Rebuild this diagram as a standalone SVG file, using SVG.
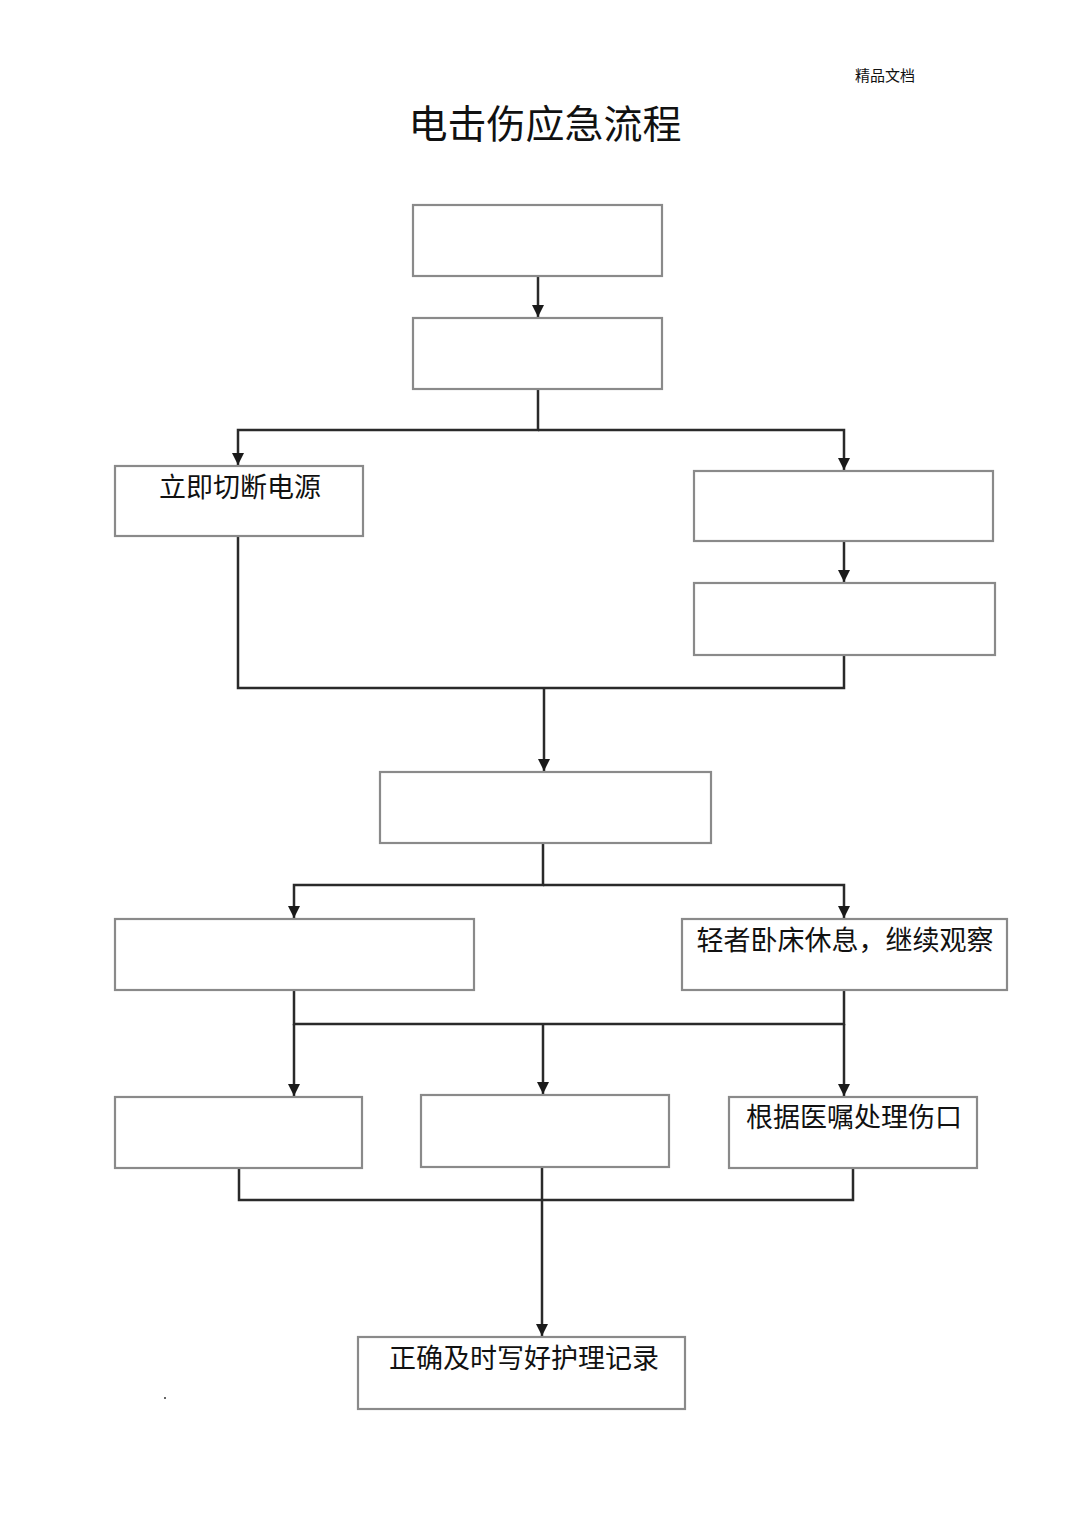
<svg xmlns="http://www.w3.org/2000/svg" width="1080" height="1528" viewBox="0 0 1080 1528">
<style>
.box{fill:#ffffff;stroke:#8a8a8a;stroke-width:2.2}
.ln{fill:none;stroke:#2a2a2a;stroke-width:2.5}
.t{font-family:"Liberation Serif","Noto Sans CJK SC",serif;fill:#111;font-size:27px}
</style>
<rect width="1080" height="1528" fill="#ffffff"/>
<text x="885" y="81" class="t" style="font-size:15px" text-anchor="middle">精品文档</text>
<text x="545" y="138" class="t" style="font-size:39px" text-anchor="middle">电击伤应急流程</text>
<g id="connectors">
<path class="ln" d="M538,277 V317"/>
<path class="ln" d="M538,390 V430 H238 V465"/>
<path class="ln" d="M538,430 H844 V470"/>
<path class="ln" d="M844,541 V582"/>
<path class="ln" d="M238,537 V688 H844 V656"/>
<path class="ln" d="M544,688 V771"/>
<path class="ln" d="M543,844 V885 H294 V918"/>
<path class="ln" d="M543,885 H844 V918"/>
<path class="ln" d="M294,991 V1024 H844 V991"/>
<path class="ln" d="M844,1024 V1096"/>
<path class="ln" d="M294,1024 V1096"/>
<path class="ln" d="M543,1024 V1094"/>
<path class="ln" d="M239,1169 V1200 H853 V1169"/>
<path class="ln" d="M542,1168 V1336"/>
<g fill="#1a1a1a">
<path d="M532,305 L544,305 L538,317 Z"/>
<path d="M232,453 L244,453 L238,465 Z"/>
<path d="M838,458 L850,458 L844,470 Z"/>
<path d="M838,570 L850,570 L844,582 Z"/>
<path d="M538,759 L550,759 L544,771 Z"/>
<path d="M288,906 L300,906 L294,918 Z"/>
<path d="M838,906 L850,906 L844,918 Z"/>
<path d="M288,1084 L300,1084 L294,1096 Z"/>
<path d="M537,1082 L549,1082 L543,1094 Z"/>
<path d="M838,1084 L850,1084 L844,1096 Z"/>
<path d="M536,1324 L548,1324 L542,1336 Z"/>
</g>
</g>
<g id="n1"><rect class="box" x="413" y="205" width="249" height="71"/></g>
<g id="n2"><rect class="box" x="413" y="318" width="249" height="71"/></g>
<g id="n3"><rect class="box" x="115" y="466" width="248" height="70"/><text class="t" x="240" y="497" text-anchor="middle">立即切断电源</text></g>
<g id="n4"><rect class="box" x="694" y="471" width="299" height="70"/></g>
<g id="n5"><rect class="box" x="694" y="583" width="301" height="72"/></g>
<g id="n6"><rect class="box" x="380" y="772" width="331" height="71"/></g>
<g id="n7"><rect class="box" x="115" y="919" width="359" height="71"/></g>
<g id="n8"><rect class="box" x="682" y="919" width="325" height="71"/><text class="t" x="845" y="950" text-anchor="middle">轻者卧床休息，继续观察</text></g>
<g id="n9"><rect class="box" x="115" y="1097" width="247" height="71"/></g>
<g id="n10"><rect class="box" x="421" y="1095" width="248" height="72"/></g>
<g id="n11"><rect class="box" x="729" y="1097" width="248" height="71"/><text class="t" x="854" y="1127" text-anchor="middle">根据医嘱处理伤口</text></g>
<g id="n12"><rect class="box" x="358" y="1337" width="327" height="72"/><text class="t" x="524" y="1368" text-anchor="middle">正确及时写好护理记录</text></g>
<circle cx="165" cy="1398" r="1" fill="#333"/>
</svg>
